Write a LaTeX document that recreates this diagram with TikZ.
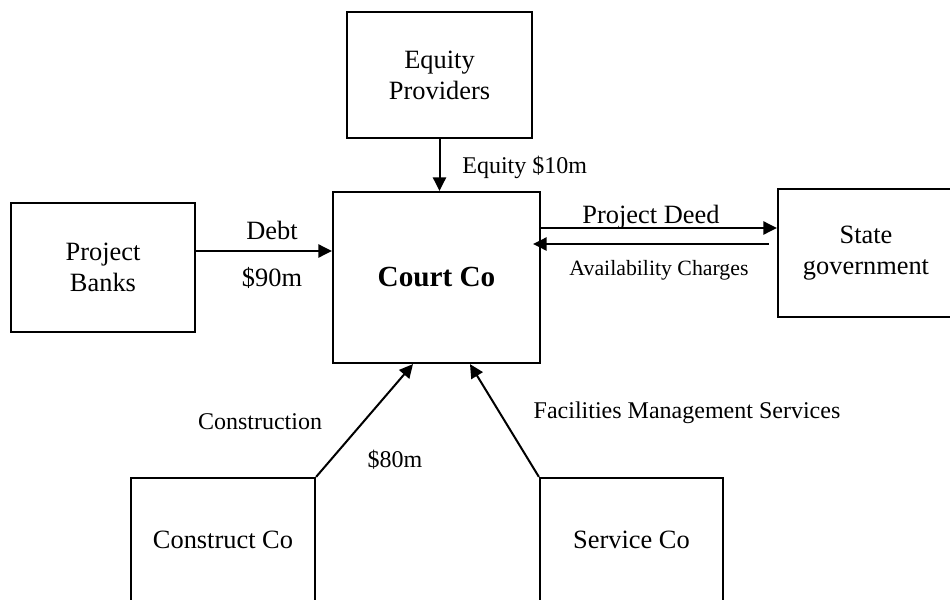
\documentclass[tikz,border=0pt]{standalone}
\usepackage{fontspec}
\setmainfont{Liberation Serif}
\usetikzlibrary{arrows.meta}
\tikzset{
    party-box/.style = {draw=black, fill=white, line width=1.1pt, rectangle, align=center, inner sep=0pt, font=\fontsize{13.2}{15.5}\selectfont},
    flow-arrow/.style = {draw=black, line width=1pt, -{Triangle[length=6.8pt,width=6.6pt]}},
    flow-label/.style = {inner sep=0pt, font=\fontsize{12}{14}\selectfont},
    flow-label-big/.style = {flow-label, font=\fontsize{13.2}{15.5}\selectfont},
}

\begin{document}
\begin{tikzpicture}[x=0.5pt, y=-0.5pt]
\useasboundingbox (0,0) rectangle (950,600);

% parties
\node [party-box, minimum width=92.5pt, minimum height=63pt] (equity) at (439.5,75) {Equity\\Providers};
\node [party-box, minimum width=92pt, minimum height=64.5pt] (banks) at (103,267.5) {Project\\Banks};
\node [party-box, minimum width=103.5pt, minimum height=85.5pt, font=\fontsize{14.6}{17}\selectfont\bfseries] (court) at (436.5,277.5) {Court Co};
\node [party-box, minimum width=88pt, minimum height=64pt] (state) at (866,253) {State\\government};
\node [party-box, minimum width=92pt, minimum height=62pt] (construct) at (223,540) {Construct Co};
\node [party-box, minimum width=91.5pt, minimum height=62pt] (service) at (631.5,540) {Service Co};

% flows
\draw [flow-arrow] (equity.south) -- (equity.south |- court.north);
\draw [flow-arrow] ([yshift=8.25pt]banks.east) -- ([yshift=8.25pt]banks.east -| court.west);
\draw [flow-arrow] ([yshift=24.75pt]court.east) -- ([yshift=24.75pt]court.east -| state.west);
\draw [flow-arrow] ([xshift=-4pt,yshift=4.5pt]state.west) -- ([xshift=-4pt,yshift=4.5pt]state.west -| court.east);
\draw [flow-arrow] (construct.north east) -- ([xshift=-11.75pt]court.south);
\draw [flow-arrow] (service.north west) -- ([xshift=16.75pt]court.south);

% labels
\node [flow-label, anchor=west] (equity-label) at (462,167) {Equity \$10m};
\node [flow-label-big] (debt-label) at (272,230) {Debt};
\node [flow-label-big] (ninety-label) at (272,278) {\$90m};
\node [flow-label-big] (deed-label) at (651,217) {Project Deed};
\node [flow-label, font=\fontsize{10.9}{13}\selectfont] (charges-label) at (659,270) {Availability Charges};
\node [flow-label] (construction-label) at (260,422) {Construction};
\node [flow-label] (eighty-label) at (395,460) {\$80m};
\node [flow-label] (fm-label) at (687,413) {Facilities Management Services};
\end{tikzpicture}
\end{document}
